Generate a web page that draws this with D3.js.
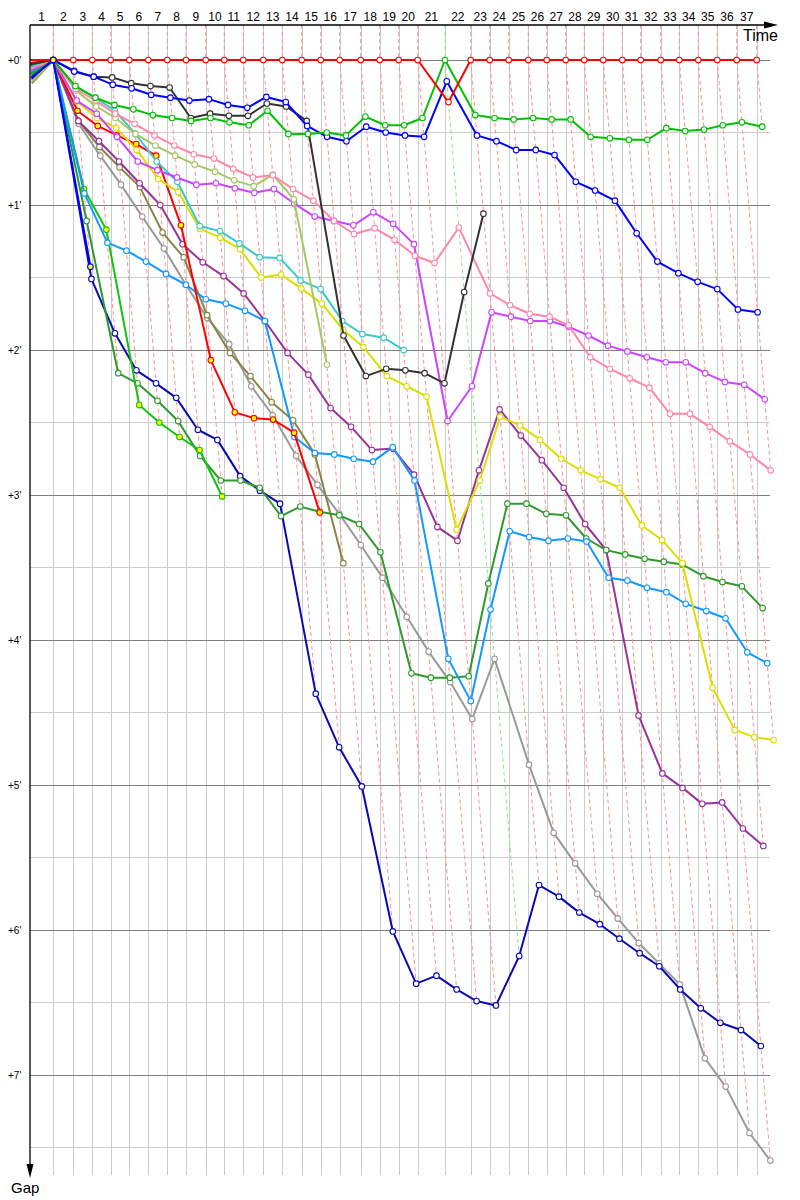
<!DOCTYPE html>
<html>
<head>
<meta charset="utf-8">
<script src="https://cdn.jsdelivr.net/npm/d3@7"></script>
<style>
  body { margin: 0; background: #fff; }
  svg text { font-family: "Liberation Sans", Arial, sans-serif; fill: #000; }
</style>
</head>
<body>
<svg width="800" height="1200"></svg>
<script>
// leader lap times (seconds), laps 1..37
const leaderLapSec = [116.5, 100, 95, 92, 93, 95, 95, 93.5, 98.5, 93, 95, 100, 95, 97, 95, 95, 105, 95, 95, 95,
    136.5, 128.5, 95, 95, 98, 92, 95, 93, 95, 95, 92, 100, 93, 95, 95, 97, 100];
const lapLabels = d3.range(1, 38);
const gapTicks = [0, 1, 2, 3, 4, 5, 6, 7];

// gap to leader (minutes) for each car, index = lap (0 = start)
const gapRed = [0, 0, 0, 0, 0, 0, 0, 0, 0, 0, 0, 0, 0, 0, 0, 0, 0, 0, 0, 0, 0, 0.29, 0, 0, 0, 0, 0, 0, 0, 0, 0, 0, 0, 0, 0, 0, 0, 0];
const gapGreen = [0.10, 0, 0.18, 0.26, 0.31, 0.34, 0.38, 0.40, 0.42, 0.40, 0.43, 0.45, 0.35, 0.51, 0.51, 0.50, 0.52, 0.39, 0.45, 0.45,
    0.40, 0, 0.38, 0.40, 0.41, 0.40, 0.41, 0.41, 0.53, 0.54, 0.55, 0.55, 0.47, 0.49, 0.48, 0.45, 0.43, 0.46];
const gapBlue = [0.12, 0, 0.08, 0.115, 0.17, 0.195, 0.24, 0.26, 0.28, 0.27, 0.31, 0.33, 0.255, 0.29, 0.455, 0.53, 0.56, 0.46, 0.50, 0.52,
    0.53, 0.147, 0.52, 0.56, 0.62, 0.62, 0.655, 0.84, 0.90, 0.97, 1.195, 1.39, 1.47, 1.53, 1.58, 1.72, 1.74];
const gapDarkGray = [0.03, 0, 0.075, 0.115, 0.12, 0.16, 0.18, 0.19, 0.40, 0.37, 0.385, 0.385, 0.30, 0.32, 0.42, 1.90, 2.18, 2.13, 2.14, 2.16,
    2.23, 1.60, 1.06];
const gapPink = [0.06, 0, 0.20, 0.28, 0.37, 0.44, 0.52, 0.59, 0.65, 0.68, 0.75, 0.81, 0.795, 0.89, 0.97, 1.11, 1.20, 1.16, 1.24, 1.35,
    1.40, 1.155, 1.61, 1.69, 1.75, 1.77, 1.83, 2.05, 2.13, 2.195, 2.26, 2.44, 2.44, 2.53, 2.63, 2.72, 2.83];
const gapLightOlive = [0.15, 0, 0.21, 0.32, 0.40, 0.51, 0.59, 0.66, 0.72, 0.77, 0.83, 0.87, 0.79, 0.96, 2.10];
const gapMagenta = [0.07, 0, 0.28, 0.37, 0.53, 0.70, 0.76, 0.81, 0.86, 0.85, 0.885, 0.915, 0.89, 0.99, 1.08, 1.11, 1.14, 1.05, 1.13, 1.27,
    2.49, 2.25, 1.74, 1.77, 1.80, 1.80, 1.84, 1.90, 1.97, 2.01, 2.05, 2.085, 2.085, 2.16, 2.22, 2.24, 2.34];
const gapCyan = [0.05, 0, 0.185, 0.26, 0.35, 0.51, 0.70, 0.84, 1.145, 1.18, 1.265, 1.36, 1.365, 1.52, 1.58, 1.80, 1.89, 1.915, 2.0];
const gapYellow = [0.11, 0, 0.285, 0.40, 0.47, 0.62, 0.82, 0.91, 1.165, 1.225, 1.305, 1.50, 1.48, 1.575, 1.68, 1.86, 1.98, 2.18, 2.25, 2.32,
    3.24, 2.90, 2.46, 2.52, 2.62, 2.75, 2.83, 2.89, 2.95, 3.21, 3.31, 3.47, 4.33, 4.62, 4.67, 4.69];
const gapRedY = [0.02, 0, 0.35, 0.455, 0.52, 0.58, 0.66, 1.14, 2.07, 2.43, 2.47, 2.48, 2.57, 3.12];
const gapPurple = [0.09, 0, 0.42, 0.56, 0.70, 0.85, 1.0, 1.27, 1.395, 1.49, 1.61, 1.80, 2.02, 2.17, 2.40, 2.53, 2.69, 2.68, 2.86, 3.22,
    3.315, 2.83, 2.41, 2.59, 2.76, 2.95, 3.20, 3.38, 4.52, 4.92, 5.02, 5.13, 5.12, 5.30, 5.42];
const gapDarkOlive = [0.16, 0, 0.42, 0.60, 0.74, 0.875, 1.19, 1.36, 1.76, 2.02, 2.18, 2.36, 2.485, 2.72, 3.47];
const gapGray = [0.14, 0, 0.44, 0.66, 0.86, 1.08, 1.30, 1.55, 1.78, 1.96, 2.25, 2.45, 2.73, 2.93, 3.13, 3.345, 3.57, 3.84, 4.08, 4.29,
    4.545, 4.13, 4.86, 5.33, 5.54, 5.75, 5.92, 6.09, 6.23, 6.375, 6.885, 7.08, 7.40, 7.59];
const gapLightBlue = [0.08, 0, 0.92, 1.26, 1.315, 1.39, 1.475, 1.55, 1.65, 1.68, 1.73, 1.80, 2.60, 2.71, 2.72, 2.75, 2.77, 2.67, 2.90, 4.13,
    4.42, 3.79, 3.25, 3.29, 3.315, 3.30, 3.32, 3.57, 3.59, 3.64, 3.67, 3.75, 3.80, 3.85, 4.085, 4.16];
const gapGreenY = [0.10, 0, 0.89, 1.17, 2.38, 2.50, 2.60, 2.69, 3.01];
const gapDarkGreen = [0.04, 0, 1.11, 2.16, 2.23, 2.35, 2.49, 2.73, 2.90, 2.90, 2.95, 3.145, 3.08, 3.115, 3.14, 3.20, 3.395, 4.23, 4.26, 4.26,
    4.25, 3.61, 3.06, 3.06, 3.13, 3.14, 3.30, 3.38, 3.41, 3.44, 3.46, 3.48, 3.56, 3.60, 3.63, 3.78];
const gapNavy = [0.13, 0, 1.51, 1.885, 2.14, 2.23, 2.33, 2.55, 2.62, 2.87, 2.97, 3.06, 4.37, 4.74, 5.01, 6.01, 6.37, 6.315, 6.41, 6.49,
    6.52, 6.18, 5.69, 5.77, 5.88, 5.96, 6.06, 6.16, 6.25, 6.41, 6.54, 6.64, 6.69, 6.80];
const gapBlueY = [0.12, 0, 1.425];

// draw order: first is drawn underneath
const cars = [
    { name: "gray", color: "#999999", fill: "#fff", gaps: gapGray },
    { name: "darkOlive", color: "#858547", fill: "#fff", gaps: gapDarkOlive },
    { name: "purple", color: "#993399", fill: "#fff", gaps: gapPurple },
    { name: "navy", color: "#0a0ab0", fill: "#fff", gaps: gapNavy },
    { name: "darkGreen", color: "#2e9a2e", fill: "#fff", gaps: gapDarkGreen },
    { name: "greenY", color: "#11c411", fill: "#ffff00", gaps: gapGreenY },
    { name: "lightBlue", color: "#1199ff", fill: "#fff", gaps: gapLightBlue },
    { name: "redY", color: "#ff0000", fill: "#ffff00", gaps: gapRedY },
    { name: "yellow", color: "#dddd00", fill: "#fff", gaps: gapYellow },
    { name: "cyan", color: "#3cc8c8", fill: "#fff", gaps: gapCyan },
    { name: "magenta", color: "#cc44ff", fill: "#fff", gaps: gapMagenta },
    { name: "lightOlive", color: "#a4c864", fill: "#fff", gaps: gapLightOlive },
    { name: "pink", color: "#ff88aa", fill: "#fff", gaps: gapPink },
    { name: "darkGray", color: "#333333", fill: "#fff", gaps: gapDarkGray },
    { name: "blue", color: "#0000ff", fill: "#fff", gaps: gapBlue },
    { name: "green", color: "#00c000", fill: "#fff", gaps: gapGreen },
    { name: "red", color: "#ff0000", fill: "#fff", gaps: gapRed },
    { name: "blueY", color: "#0000ff", fill: "#ffff00", gaps: gapBlueY }
];

const svg = d3.select("svg");

// leader's elapsed time at the end of each lap
const cum = [0];
leaderLapSec.forEach((s, i) => cum.push(cum[i] + s));
const total = cum[cum.length - 1];

const x = d3.scaleLinear().domain([0, total]).range([30, 30 + total * 0.2]);
const y = d3.scaleLinear().domain([0, 7]).range([60, 1075]);
const topY = 25, bottomY = 1175, rightX = 770;

// a car's point on lap i: time = leader's time + its gap
const px = (lap, g) => x(cum[lap] + g * 60);

// grid
const grid = svg.append("g").attr("shape-rendering", "crispEdges");
grid.selectAll(".half")
    .data(d3.range(0.5, 8, 1))
    .enter().append("line")
    .attr("x1", 30).attr("x2", rightX)
    .attr("y1", d => y(d)).attr("y2", d => y(d))
    .attr("stroke", "#cccccc");
grid.selectAll(".vline")
    .data(cum.slice(1))
    .enter().append("line")
    .attr("x1", d => Math.round(x(d))).attr("x2", d => Math.round(x(d)))
    .attr("y1", topY).attr("y2", bottomY)
    .attr("stroke", "#cccccc");
grid.selectAll(".minute")
    .data(gapTicks)
    .enter().append("line")
    .attr("x1", 30).attr("x2", rightX)
    .attr("y1", d => y(d)).attr("y2", d => y(d))
    .attr("stroke", "#808080");

// dashed lines joining every car's point of the same lap
const line = d3.line();
const dashG = svg.append("g");
lapLabels.forEach(j => {
    const pts = cars.filter(c => c.gaps.length > j)
        .map(c => ({ c: c, g: c.gaps[j] }));
    pts.sort((a, b) => a.g - b.g || (b.c.name === "red") - (a.c.name === "red"));
    const leader = pts[0].c;
    const coords = [[x(cum[j]), topY]].concat(pts.map(p => [px(j, p.g), y(p.g)]));
    dashG.append("path")
        .attr("d", line(coords))
        .attr("fill", "none")
        .attr("stroke", d3.interpolateRgb(leader.color, "#fff")(0.56))
        .attr("stroke-width", 1)
        .attr("stroke-dasharray", "4,3");
});

// cars
cars.forEach(c => {
    const pts = c.gaps.map((g, lap) => ({ lap: lap, g: g }));
    const g = svg.append("g");
    g.append("path")
        .attr("d", line(pts.map(p => [px(p.lap, p.g), y(p.g)])))
        .attr("fill", "none")
        .attr("stroke", c.color)
        .attr("stroke-width", 2)
        .attr("stroke-linejoin", "round");
    g.selectAll("circle")
        .data(pts.filter(p => p.lap > 0))
        .enter().append("circle")
        .attr("cx", p => px(p.lap, p.g))
        .attr("cy", p => y(p.g))
        .attr("r", 2.8)
        .attr("fill", c.fill)
        .attr("stroke", c.color)
        .attr("stroke-width", 1.1);
});

// axes
svg.append("line")
    .attr("x1", 30).attr("x2", 770).attr("y1", topY).attr("y2", topY)
    .attr("stroke", "#000").attr("stroke-width", 1.3);
svg.append("path")
    .attr("d", "M778,25 L764,21.5 L764,28.5 Z")
    .attr("fill", "#000");
svg.append("line")
    .attr("x1", 30).attr("x2", 30).attr("y1", topY).attr("y2", 1170)
    .attr("stroke", "#000").attr("stroke-width", 1.3);
svg.append("path")
    .attr("d", "M30,1178 L26.5,1164 L33.5,1164 Z")
    .attr("fill", "#000");

svg.selectAll(".lapLabel")
    .data(lapLabels)
    .enter().append("text")
    .attr("x", d => (x(cum[d - 1]) + x(cum[d])) / 2)
    .attr("y", 21)
    .attr("text-anchor", "middle")
    .attr("font-size", "12px")
    .text(d => d);

svg.selectAll(".gapLabel")
    .data(gapTicks)
    .enter().append("text")
    .attr("x", 8)
    .attr("y", d => y(d))
    .attr("dy", "0.35em")
    .attr("font-size", "10px")
    .text(d => "+" + d + "'");

svg.append("text")
    .attr("x", 778).attr("y", 41)
    .attr("text-anchor", "end")
    .attr("font-size", "16px")
    .text("Time");

svg.append("text")
    .attr("x", 11).attr("y", 1193)
    .attr("font-size", "15px")
    .text("Gap");
</script>
</body>
</html>
